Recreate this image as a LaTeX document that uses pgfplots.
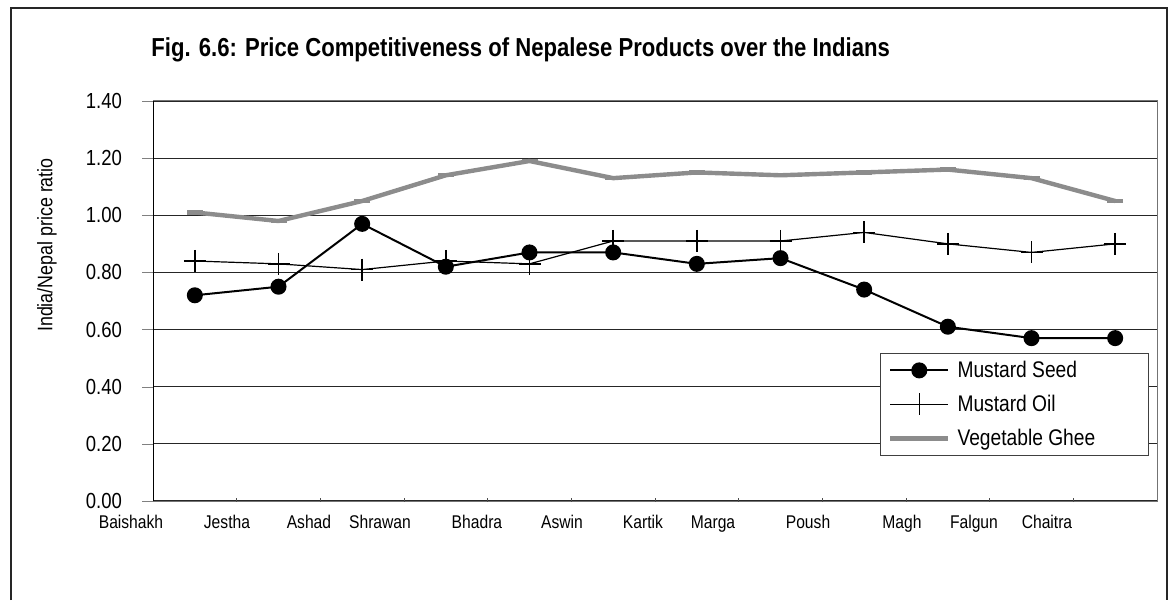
\documentclass[border=0pt]{standalone}
\usepackage{fontspec}
\setmainfont{Liberation Sans}[FakeStretch=0.85]
\usepackage{pgfplots}
\pgfplotsset{compat=1.18}
\definecolor{gheegray}{RGB}{140,140,140}
\pgfplotstableread{
x  seed  oil   ghee
1  0.72  0.84  1.01
2  0.75  0.83  0.98
3  0.97  0.81  1.05
4  0.82  0.84  1.14
5  0.87  0.83  1.19
6  0.87  0.91  1.13
7  0.83  0.91  1.15
8  0.85  0.91  1.14
9  0.74  0.94  1.15
10 0.61  0.90  1.16
11 0.57  0.87  1.13
12 0.57  0.90  1.05
}\datatable
\begin{document}
\begin{tikzpicture}
\useasboundingbox (0,0) rectangle (585.5pt,300pt);
\draw[line width=1pt, black!85] (5.5pt,0pt) -- (5.5pt,296pt) -- (583.5pt,296pt) -- (583.5pt,0pt);
\node[anchor=base west, inner sep=0pt, font=\fontsize{13}{15}\selectfont\bfseries] at (75.5pt,271.5pt) {Fig. 6.6: Price Competitiveness of Nepalese Products over the Indians};
\begin{axis}[
  at={(76.5pt,49.5pt)}, anchor=south west,
  scale only axis, width=502pt, height=200pt,
  xmin=0.5, xmax=12.5, ymin=0, ymax=1.4,
  ytick={0,0.2,0.4,0.6,0.8,1.0,1.2,1.4},
  ytick pos=left,
  /pgf/number format/assume math mode=true,
  yticklabel style={font=\fontsize{10.9}{12}\selectfont, xshift=-6.5pt, /pgf/number format/.cd, fixed, fixed zerofill, precision=2},
  tick align=outside, major tick length=5.5pt,
  xtick=\empty,
  extra x ticks={0.5,1.384,2.364,3.213,4.372,5.388,6.356,7.193,8.329,9.452,10.312,11.185},
  extra x tick labels={\makebox[0pt]{\kern-22pt Baishakh}, Jestha, Ashad, Shrawan, Bhadra, \raisebox{-2pt}{Aswin}, Kartik, Marga, Poush, Magh, Falgun, Chaitra},
  extra x tick style={grid=none, tick style={draw=none}},
  xticklabel style={font=\fontsize{9.2}{11}\selectfont, anchor=north, inner sep=0pt, yshift=-1.5pt},
  ymajorgrids, grid style={black!85, line width=0.6pt},
  axis line style={black!55, line width=0.5pt},
  ylabel={India/Nepal price ratio},
  ylabel style={at={(axis description cs:-0.1056,0.64)}, anchor=center, font=\fontsize{10.5}{12}\selectfont},
  legend style={at={(axis description cs:0.724,0.37)}, anchor=north west, draw=black!75, fill=white,
    inner sep=0pt, row sep=0pt, column sep=0pt, font=\fontsize{11.3}{13}\selectfont,
    nodes={inner sep=0pt, minimum height=17pt}},
  legend cell align=left,
  legend image code/.code={\path[draw=none, fill=none] (0pt,-8.5pt) rectangle (34pt,8.5pt);
    \draw[mark repeat=2, mark phase=2] plot coordinates {(5pt,0pt) (19.5pt,0pt) (34pt,0pt)};},
]
\addplot[black, line width=1pt, mark=*, mark size=3.5pt] table[x=x, y=seed] {\datatable};
\addlegendentry{\makebox[99pt][l]{\hspace{3.5pt}Mustard Seed}}
\addplot[black, line width=0.6pt, mark=+, mark size=5.5pt, mark options={line width=0.7pt}] table[x=x, y=oil] {\datatable};
\addlegendentry{\makebox[99pt][l]{\hspace{3.5pt}Mustard Oil}}
\addplot[gheegray, line width=2.2pt, mark=-, mark size=4pt] table[x=x, y=ghee] {\datatable};
\addlegendentry{\makebox[99pt][l]{\hspace{3.5pt}Vegetable Ghee}}
\draw[black, line width=0.7pt] (rel axis cs:0,0) -- (rel axis cs:0,1);
\pgfplotsinvokeforeach{1.5,2.5,3.5,4.5,5.5,6.5,7.5,8.5,9.5,10.5,11.5}{
  \draw[black!70, line width=0.5pt] (axis cs:#1,0) ++(0pt,-1.5pt) -- ++(0pt,3pt);
}
\end{axis}
\end{tikzpicture}
\end{document}
